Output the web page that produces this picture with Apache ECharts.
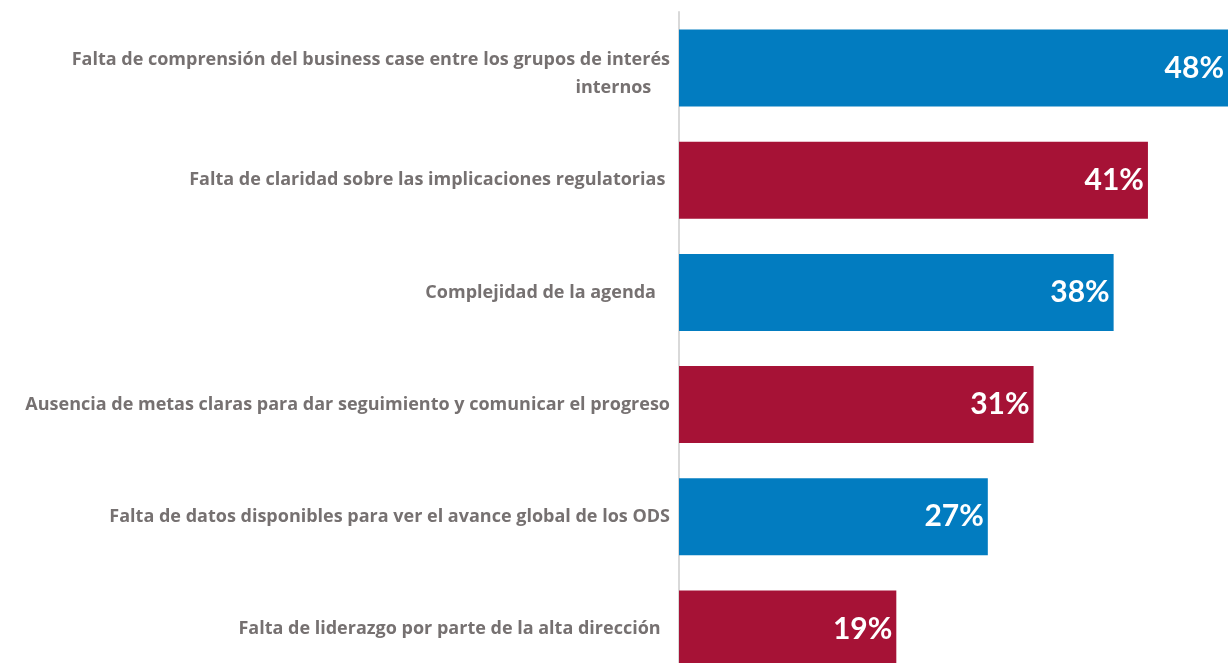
<!DOCTYPE html>
<html>
<head>
<meta charset="utf-8">
<script src="https://cdn.jsdelivr.net/npm/echarts@6/dist/echarts.min.js"></script>
<style>
  html, body { margin: 0; padding: 0; background: #fff; overflow: hidden; }
  /* taller than the window: the last bar is cut at the bottom edge like the original */
  #chart { width: 1228px; height: 685px; }
</style>
</head>
<body>
<div id="chart"></div>
<script>
// categories, top to bottom (trailing spaces keep the original's ragged right edge)
const categories = [
  "Falta de comprensión del business case entre los grupos de interés\ninternos    ",
  "Falta de claridad sobre las implicaciones regulatorias ",
  "Complejidad de la agenda   ",
  "Ausencia de metas claras para dar seguimiento y comunicar el progreso",
  "Falta de datos disponibles para ver el avance global de los ODS",
  "Falta de liderazgo por parte de la alta dirección  ",
];
const values = [48, 41, 38, 31, 27, 19];
const barColors = ["#027cc0", "#a61236"];

const labelFont = {
  color: "#767171",
  fontFamily: "Open Sans",
  fontWeight: "bold",
  fontSize: 18,
  lineHeight: 28,
};

const chart = echarts.init(document.getElementById("chart"));

chart.setOption({
  animation: false,
  grid: { left: 679, right: 0, top: 12, bottom: 0, containLabel: false },
  xAxis: {
    type: "value",
    min: 0,
    max: 48,
    show: false,
  },
  yAxis: {
    type: "category",
    data: categories,
    inverse: true,
    axisLine: { show: true, lineStyle: { color: "#d9d9d9", width: 2 } },
    axisTick: { show: false },
    axisLabel: {
      margin: 9,
      align: "right",
      ...labelFont,
      // the two-line label sits a little below its bar centre in the original
      formatter: (v) => {
        const lines = v.split("\n");
        if (lines.length < 2) return v;
        return "{pad| }\n" + lines.map((l) => "{l|" + l + "}").join("\n");
      },
      rich: {
        pad: { fontSize: 1, lineHeight: 12 },
        l: { ...labelFont },
      },
    },
  },
  series: [
    {
      type: "bar",
      data: values.map((v, i) => ({
        value: v,
        itemStyle: { color: barColors[i % 2] },
      })),
      barWidth: 77,
      label: {
        show: true,
        position: "insideRight",
        offset: [1, 0],
        formatter: "{c}%",
        color: "#fff",
        fontFamily: "Lato",
        fontWeight: "bold",
        fontSize: 30,
      },
    },
  ],
});
</script>
</body>
</html>
